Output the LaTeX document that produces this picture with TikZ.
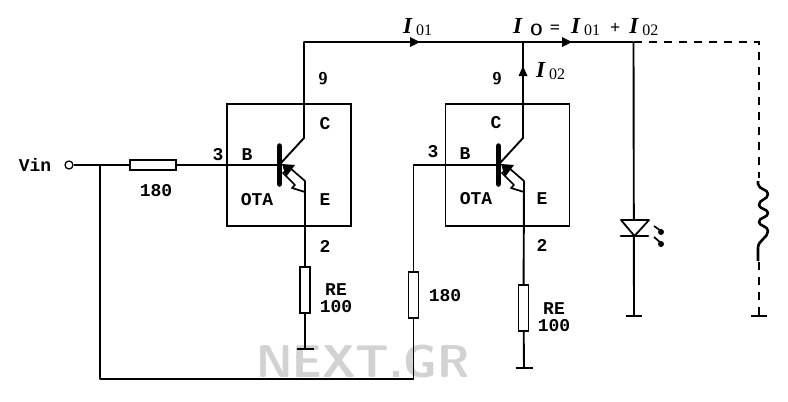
\documentclass[tikz,border=0pt]{standalone}
\usepackage{fontspec}
\setmainfont{Liberation Serif}
\setmonofont{Liberation Mono}
\newcommand{\bigI}{{\fontsize{23}{23}\selectfont\bfseries\itshape I}}
\newcommand{\subtx}[1]{\raisebox{-2.5pt}{\fontsize{16}{16}\selectfont #1}}
\newcommand{\cur}[1]{\bigI\hspace{4pt}\subtx{#1}}
\tikzset{
  wire/.style={line width=1.9pt,line join=round},
  dashwire/.style={line width=1.1pt,dash pattern=on 8pt off 7pt},
  boxframe/.style={draw,line width=1.6pt,minimum width=124pt,minimum height=122pt,inner sep=0pt},
  resist/.style={draw,fill=white,line width=1.6pt,inner sep=0pt},
  hres/.style={resist,minimum width=46pt,minimum height=10pt},
  vres/.style={resist,minimum width=10pt,minimum height=46pt},
  lbl/.style={font=\ttfamily\bfseries\fontsize{18}{17}\selectfont,inner sep=0pt,align=center},
  cl/.style={inner sep=0pt},
  gbar/.style={line width=2.2pt}
}
\begin{document}
\begin{tikzpicture}[x=1pt,y=-1pt]
\useasboundingbox (0,0) rectangle (788,402);
\node[cl,text=gray!35,font=\sffamily\bfseries\fontsize{46}{46}\selectfont] (wm) at (363,362) {NEXT.GR};

% frames
\node[boxframe] (ota1) at (289,165) {};
\node[boxframe] (ota2) at (507.5,165) {};

% coordinates
\coordinate (topL) at (304,42);
\coordinate (j2) at (523,42);
\coordinate (j3) at (633.5,42);
\coordinate (topR) at (759,42);
\coordinate (c1) at (304,138);
\coordinate (c2) at (523,138);
\coordinate (b1) at (279,165);
\coordinate (b2) at (498,165);
\coordinate (e1) at (305,182);
\coordinate (e2) at (524,182);
\coordinate (g1) at (305,349);
\coordinate (g2) at (524,368);
\coordinate (g3) at (634,316);
\coordinate (g4) at (759,316);
\coordinate (jv) at (100,165);
\coordinate (bl) at (100,379);
\coordinate (br) at (413.5,379);
\coordinate (up) at (413.5,165);

\node[draw,circle,fill=white,line width=1.3pt,minimum size=8pt,inner sep=0pt] (vinc) at (69,165) {};
\node[hres] (r1) at (153,165) {};
\node[vres] (r2) at (413.5,295) {};
\node[vres] (re1) at (305,290) {};
\node[vres] (re2) at (523.5,308) {};

% wires
\draw[wire] (vinc) -- (r1) -- (b1);
\draw[wire] (jv) -- (bl) -- (br) -- (r2) -- (up) -- (b2);
\draw[wire] (b1) ++(2,-2) -- (c1) -- (topL) -- (j3);
\draw[wire] (b2) ++(2,-2) -- (c2) -- (j2);
\draw[wire] (j3) -- (g3);
\draw[wire] (e1) -- (re1) -- (g1);
\draw[wire] (e2) -- (re2) -- (g2);
\draw[dashwire] (j3) -- (topR) -- (759,178);
\draw[dashwire] (759,262) -- (g4);

% coil
\draw[line width=2.6pt,line join=round] (758,181) -- (758,184) .. controls (759,190) and (768,189) .. (768,194)
  .. controls (768,200) and (759,199) .. (759,205)
  .. controls (759,209) and (768,209) .. (768,213)
  .. controls (768,218) and (759,217) .. (759,222)
  .. controls (759,226) and (768,226) .. (768,231)
  .. controls (768,238) and (758,240) .. (758,248) -- (758,261);

% ground bars
\foreach \g/\w in {g1/8.5,g2/8.5,g3/8,g4/8}{
  \draw[gbar] ([xshift=-\w pt]\g) -- ([xshift=\w pt]\g);
}

% transistors
\foreach \ox/\b in {0/b1,219/b2}{
  \begin{scope}[xshift=\ox pt]
    \draw[line width=5.5pt,line cap=round] (279.5,146) -- (279.5,184);
    \draw[line width=1.7pt,fill=white,line join=round]
      (283,173) -- (295,185) -- (292,188) -- (305,192) -- (305,181) -- (290,168) -- cycle;
    \fill (282,164) -- (295,165) -- (286,177) -- cycle;
  \end{scope}
}

% LED
\node[cl] (led) at (634,228) {};
\draw[line width=1.8pt,fill=white,line join=round] (621,220) -- (649,220) -- (634.5,236) -- cycle;
\draw[line width=2.8pt,line cap=round] (621,236) -- (648,236);
\draw[line width=1.7pt] (654,226) -- (661,231);
\draw[line width=1.7pt] (654,237) -- (661,243);
\fill (661,232) circle (3pt);
\fill (661,244) circle (3pt);

% current arrows
\fill (420,42) -- (410,37) -- (410,47) -- cycle;
\fill (572,42) -- (562,37) -- (562,47) -- cycle;
\fill (523,66) -- (518.5,76) -- (527.5,76) -- cycle;

% labels
\node[lbl] (tvin) at (35,165) {Vin};
\node[lbl] (t180a) at (156,191) {180};
\node[lbl] (t3a) at (218,155) {3};
\node[lbl] (tBa) at (247,155) {B};
\node[lbl] (tCa) at (325,124) {C};
\node[lbl] (tEa) at (325,200) {E};
\node[lbl] (tOa) at (257,200) {OTA};
\node[lbl] (t2a) at (325,246) {2};
\node[lbl,font=\sffamily\bfseries\fontsize{17}{17}\selectfont] (t9a) at (323,79) {9};
\node[lbl] (tREa) at (336,298) {RE\\100};
\node[lbl] (t3b) at (433,152) {3};
\node[lbl] (tBb) at (465,154) {B};
\node[lbl] (tCb) at (496,123) {C};
\node[lbl] (tEb) at (542,199) {E};
\node[lbl] (tOb) at (476,199) {OTA};
\node[lbl] (t2b) at (542,245) {2};
\node[lbl,font=\sffamily\bfseries\fontsize{17}{17}\selectfont] (t9b) at (497,79) {9};
\node[lbl] (t180b) at (445,296) {180};
\node[lbl] (tREb) at (554,317) {RE\\100};

\node[cl,anchor=west] (i1) at (403,27) {\cur{01}};
\node[cl,anchor=west] (i2) at (513,27) {\bigI\hspace{8pt}\raisebox{-2.5pt}{\fontsize{16}{16}\selectfont\textsf{\bfseries O}}\hspace{7pt}{\fontsize{18}{18}\selectfont\bfseries =}\hspace{11pt}\cur{01}\hspace{10pt}{\fontsize{18}{18}\selectfont\bfseries +}\hspace{9pt}\cur{02}};
\node[cl,anchor=west] (i3) at (536,71) {\cur{02}};
\end{tikzpicture}
\end{document}
